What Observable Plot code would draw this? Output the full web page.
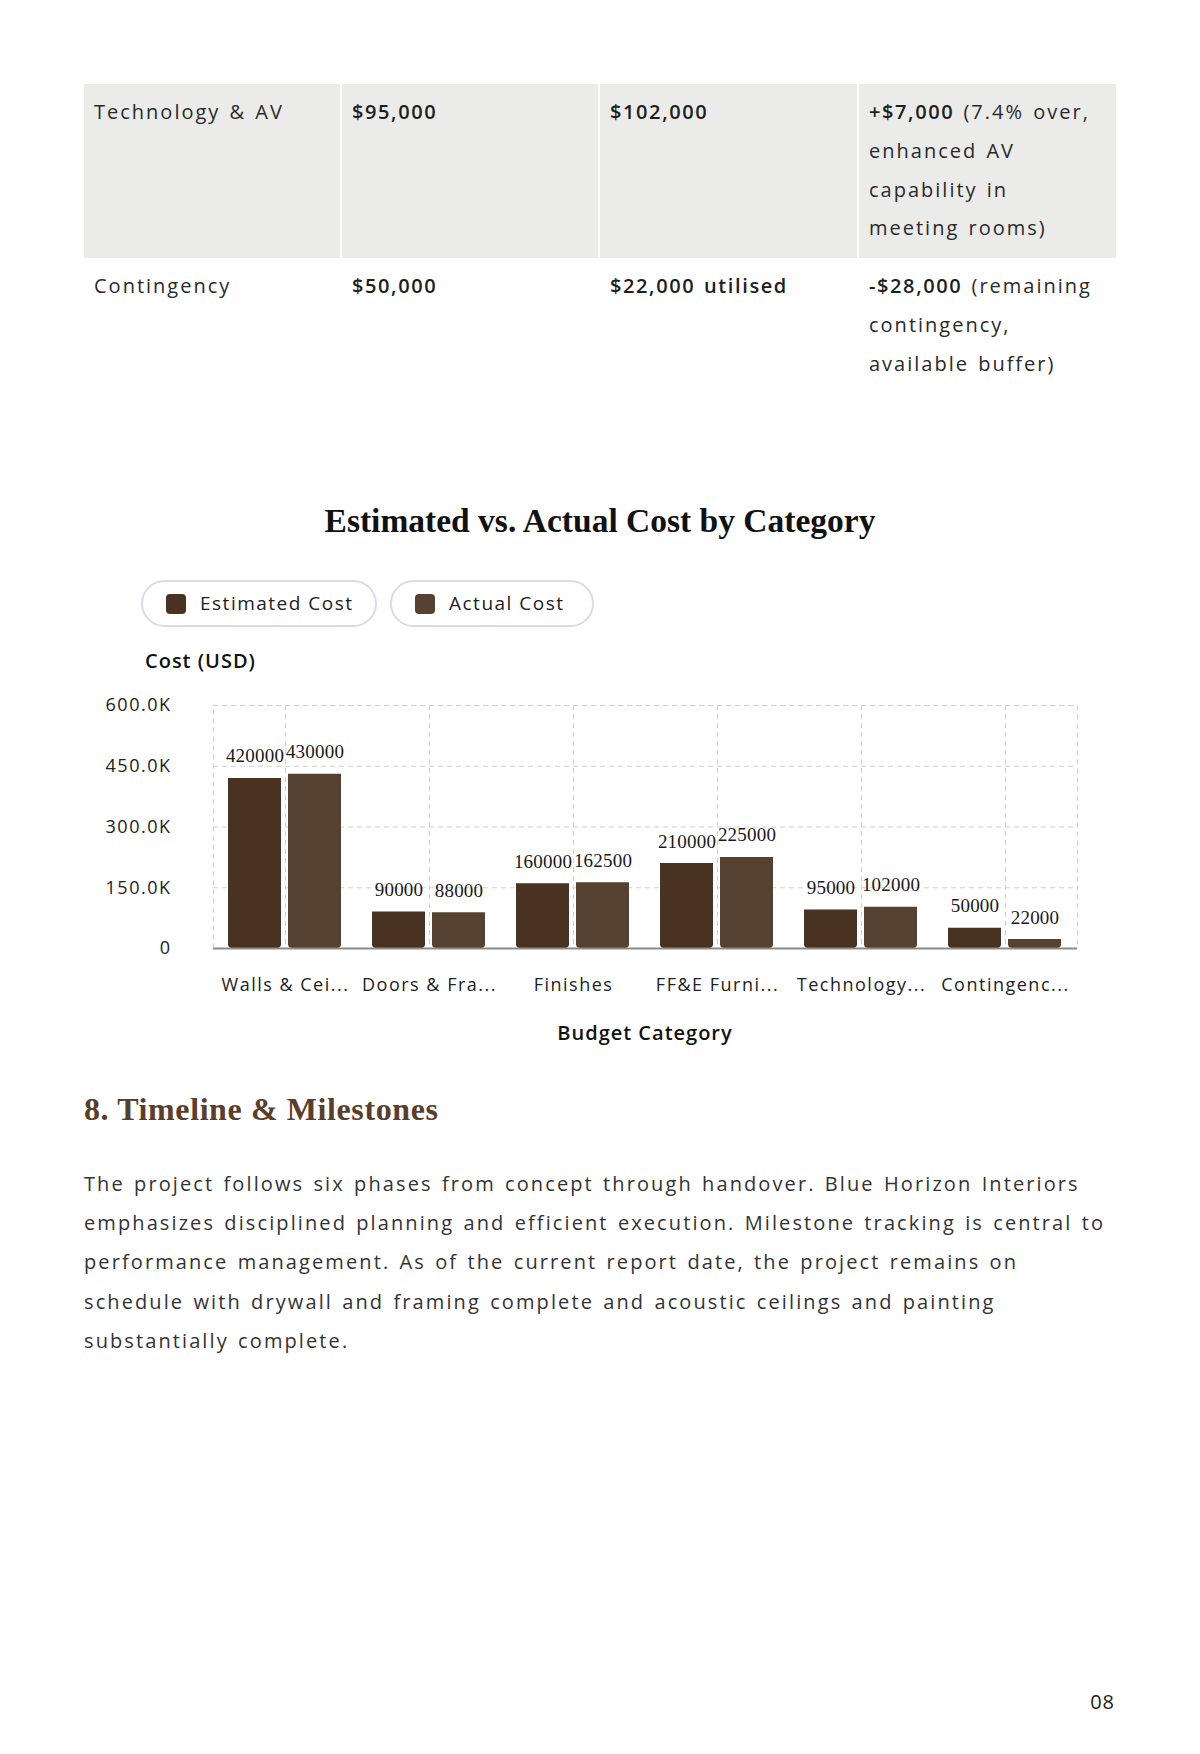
<!DOCTYPE html>
<html>
<head>
<meta charset="utf-8">
<script src="https://cdn.jsdelivr.net/npm/d3@7"></script>
<script src="https://cdn.jsdelivr.net/npm/@observablehq/plot@0.6"></script>
<style>
  html, body { margin: 0; padding: 0; background: #fff; }
  body { width: 1200px; height: 1754px; position: relative; overflow: hidden;
         font-family: "Open Sans", sans-serif; color: #333; }
  .abs { position: absolute; }
  .row { position: absolute; left: 84px; width: 1032px; display: grid;
         grid-template-columns: 256px 256px 257px 257px; column-gap: 2px; }
  .cell { box-sizing: border-box; padding: 9px 10px; font-size: 20px; line-height: 38.8px;
          letter-spacing: 2px; word-spacing: 2px; white-space: nowrap; color: #2a2a2a; }
  .r1 .cell { background: #ebebea; height: 174px; }
  .cell b { font-weight: 600; letter-spacing: 1.6px; color: #1e1e1e; }
  #title { left: 0; width: 1200px; top: 499px; text-align: center; line-height: 44px;
           font-family: "Liberation Serif", serif; font-weight: 700; font-size: 33.5px; color: #111; }
  .pill { top: 580px; height: 47px; box-sizing: border-box; border: 2px solid #d9dde3;
          border-radius: 24px; background: #fff; }
  .sw { position: absolute; left: 23px; top: 12px; width: 20px; height: 20px; border-radius: 4px; }
  .pill span { position: absolute; left: 57px; top: 0; line-height: 43px; font-size: 19px;
               letter-spacing: 1.5px; color: #222; white-space: nowrap; }
  .axt { font-size: 20px; font-weight: 600; color: #111; letter-spacing: 1px; white-space: nowrap; line-height: 26px; }
  #chart { left: 0; top: 640px; width: 1200px; height: 420px; }
  #chart g[aria-label="text"] text { letter-spacing: 0.2px; }
  #sec { left: 84px; top: 1087px; font-family: "Liberation Serif", serif; font-weight: 700;
         font-size: 32px; line-height: 44px; letter-spacing: 0.6px; color: #5a3e2b; white-space: nowrap; }
  #para { left: 84px; top: 1164px; font-size: 20px; line-height: 39.2px; letter-spacing: 2.1px;
          word-spacing: 2px; color: #333; white-space: nowrap; }
  #page { right: 85px; top: 1688px; font-size: 20px; line-height: 28px; color: #222; letter-spacing: 1px; }
</style>
</head>
<body>

<div class="row r1" style="top:84px;">
  <div class="cell">Technology &amp; AV</div>
  <div class="cell"><b>$95,000</b></div>
  <div class="cell"><b>$102,000</b></div>
  <div class="cell"><b>+$7,000</b> (7.4% over,<br>enhanced AV<br>capability in<br>meeting rooms)</div>
</div>
<div class="row r2" style="top:258px;">
  <div class="cell">Contingency</div>
  <div class="cell"><b>$50,000</b></div>
  <div class="cell"><b>$22,000 utilised</b></div>
  <div class="cell"><b>-$28,000</b> (remaining<br>contingency,<br>available buffer)</div>
</div>

<div id="title" class="abs">Estimated vs. Actual Cost by Category</div>

<div id="legend"></div>

<div class="abs axt" style="left:145px; top:648px;">Cost (USD)</div>
<div id="chart" class="abs"></div>
<div class="abs axt" style="left:445px; width:400px; text-align:center; top:1020px;">Budget Category</div>

<div id="sec" class="abs">8. Timeline &amp; Milestones</div>
<div id="para" class="abs">The project follows six phases from concept through handover. Blue Horizon Interiors<br>emphasizes disciplined planning and efficient execution. Milestone tracking is central to<br>performance management. As of the current report date, the project remains on<br>schedule with drywall and framing complete and acoustic ceilings and painting<br>substantially complete.</div>
<div id="page" class="abs">08</div>

<script>
// ---- data ----
const categories = ["Walls & Ceilings", "Doors & Frames", "Finishes", "FF&E Furniture", "Technology & AV", "Contingency"];
const categoryLabels = ["Walls & Cei...", "Doors & Fra...", "Finishes", "FF&E Furni...", "Technology...", "Contingenc..."];
const series = ["Estimated Cost", "Actual Cost"];
const estimatedCost = [420000, 90000, 160000, 210000, 95000, 50000];
const actualCost = [430000, 88000, 162500, 225000, 102000, 22000];
const seriesColors = ["#4a3222", "#574131"];
const yTicks = [0, 150000, 300000, 450000, 600000];

const rows = categories.flatMap((c, i) => [
  {category: c, series: series[0], value: estimatedCost[i]},
  {category: c, series: series[1], value: actualCost[i]}
]);

// legend (HTML)
const legendPos = [{left: 141, width: 236}, {left: 390, width: 204}];
const legend = document.getElementById("legend");
series.forEach((s, i) => {
  const p = document.createElement("div");
  p.className = "abs pill";
  p.style.left = legendPos[i].left + "px";
  p.style.width = legendPos[i].width + "px";
  const sw = document.createElement("div");
  sw.className = "sw";
  sw.style.background = seriesColors[i];
  const t = document.createElement("span");
  t.textContent = s;
  p.appendChild(sw); p.appendChild(t);
  legend.appendChild(p);
});

const fmtK = d => d === 0 ? "0" : (d / 1000).toFixed(1) + "K";
const gridStyle = {stroke: "#cfcfcf", strokeWidth: 1, strokeDasharray: "5,4"};

function build(useSuper) {
  const marks = [
    Plot.ruleY(yTicks, gridStyle),
    Plot.ruleX([0], {x: null, ...gridStyle}),
  ];
  if (useSuper) marks.push(Plot.frame({facet: "super", ...gridStyle}));
  marks.push(
    Plot.barY(rows, {fx: "category", x: "series", y: "value", fill: "series", ry2: 4}),
    Plot.ruleY([0], {stroke: "#8a8a8a", strokeWidth: 2}),
    Plot.text(rows, {fx: "category", x: "series", y: "value", text: d => String(d.value),
      dy: -22, fontFamily: "'Liberation Serif', serif", fontSize: 19, fill: "#1a1a1a"})
  );
  return Plot.plot({
    width: 1200, height: 420,
    marginTop: 65, marginLeft: 212, marginRight: 123, marginBottom: 112,
    style: {fontFamily: "'Open Sans', sans-serif", fontSize: "18px", color: "#222",
            background: "transparent", letterSpacing: "1.5px", overflow: "visible"},
    fx: {domain: categories, padding: 0, axis: "bottom", label: null, tickSize: 0, tickPadding: 30,
         tickFormat: d => categoryLabels[categories.indexOf(d)]},
    x: {domain: series, axis: null, paddingInner: 0.11, paddingOuter: 0.25},
    y: {domain: [0, 600000], ticks: yTicks, tickFormat: fmtK, tickSize: 0, tickPadding: 42, label: null},
    color: {domain: series, range: seriesColors},
    marks
  });
}
let chart;
try { chart = build(true); } catch (e) { chart = build(false); }
document.getElementById("chart").appendChild(chart);
</script>
</body>
</html>
